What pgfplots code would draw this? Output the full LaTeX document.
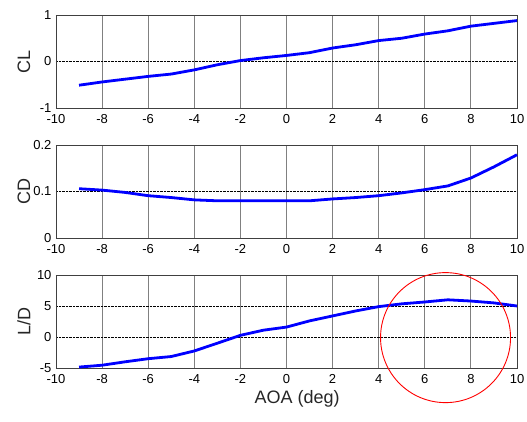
\documentclass[border=0pt]{standalone}
\usepackage{fontspec}
\setmainfont{Liberation Sans}
\usepackage{pgfplots}
\pgfplotsset{compat=1.18}

\pgfplotsset{
  aoa/.style={
    scale only axis, width=461pt, height=93pt,
    xmin=-10, xmax=10, xtick={-10,-8,...,10},
    axis line style={black!75, line width=0.9pt},
    xmajorgrids, ymajorgrids,
    x grid style={black!50, line width=0.9pt},
    y grid style={black, densely dotted, line width=0.5pt},
    major tick length=0pt,
    tick label style={font=\fontsize{13}{15}\selectfont, text=black},
    xticklabel style={yshift=-3pt},
    yticklabel style={xshift=-1pt},
    /pgf/number format/assume math mode=true,
    /pgf/number format/fixed,
    label style={font=\fontsize{18}{20}\selectfont, text=black!85},
    ylabel style={at={(axis description cs:-0.0694,0.5)}, anchor=center},
    clip=false,
  },
  curve/.style={blue, line width=2.8pt},
}

\begin{document}
\begin{tikzpicture}
\path[use as bounding box] (-56pt,-53pt) rectangle (471pt,368pt);

% CL
\begin{axis}[aoa, at={(0pt,260pt)}, anchor=south west,
  ymin=-1, ymax=1, ytick={-1,0,1}, ylabel={CL}]
\addplot[curve] coordinates {
(-9,-0.51) (-8,-0.44) (-7,-0.38) (-6,-0.32) (-5,-0.27) (-4,-0.18) (-3,-0.07)
(-2,0.02) (-1,0.08) (0,0.13) (1,0.19) (2,0.29) (3,0.36) (4,0.45) (5,0.50)
(6,0.59) (7,0.66) (8,0.76) (9,0.82) (10,0.88)};
\end{axis}

% CD
\begin{axis}[aoa, at={(0pt,130pt)}, anchor=south west,
  ymin=0, ymax=0.2, ytick={0,0.1,0.2}, ylabel={CD}]
\addplot[curve] coordinates {
(-9,0.106) (-8,0.103) (-7,0.098) (-6,0.091) (-5,0.087) (-4,0.082) (-3,0.080)
(-2,0.080) (-1,0.080) (0,0.080) (1,0.080) (2,0.084) (3,0.087) (4,0.091)
(5,0.097) (6,0.104) (7,0.112) (8,0.129) (9,0.153) (10,0.179)};
\end{axis}

% L/D
\begin{axis}[aoa, at={(0pt,0pt)}, anchor=south west,
  ymin=-5, ymax=10, ytick={-5,0,5,10}, ylabel={L/D},
  xlabel={AOA (deg)},
  xlabel style={at={(axis description cs:0.523,-0.333)}, anchor=center}]
\addplot[curve] coordinates {
(-9,-4.85) (-8,-4.55) (-7,-4.0) (-6,-3.5) (-5,-3.15) (-4,-2.25) (-3,-1.0)
(-2,0.27) (-1,1.1) (0,1.6) (1,2.6) (2,3.4) (3,4.2) (4,4.9) (5,5.35)
(6,5.65) (7,6.0) (8,5.8) (9,5.5) (10,5.0)};
\draw[red, line width=0.9pt] (axis cs:6.9,-0.1) circle[radius=65pt];
\end{axis}
\end{tikzpicture}
\end{document}
